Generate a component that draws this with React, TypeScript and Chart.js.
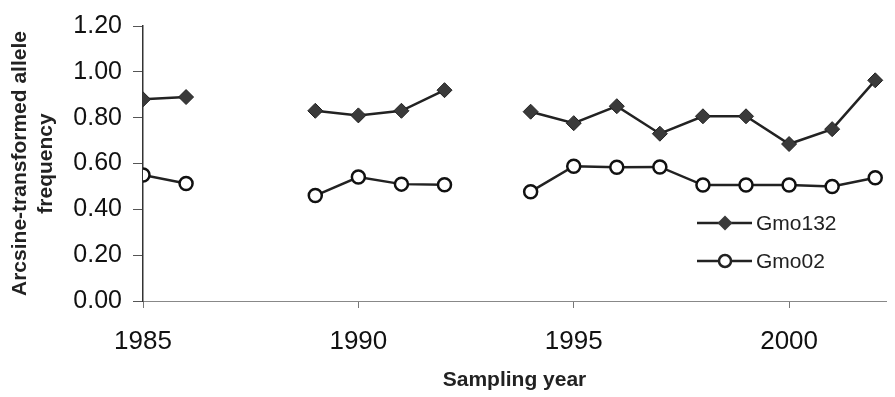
import React, { useEffect, useRef } from "react";
import { Chart, registerables } from "chart.js";

Chart.register(...registerables);

const years = [1985, 1986, 1987, 1988, 1989, 1990, 1991, 1992, 1993, 1994, 1995, 1996, 1997, 1998, 1999, 2000, 2001, 2002];
const gmo132 = [0.88, 0.89, null, null, 0.83, 0.81, 0.83, 0.92, null, 0.826, 0.776, 0.85, 0.73, 0.806, 0.806, 0.685, 0.75, 0.963];
const gmo02 = [0.55, 0.513, null, null, 0.46, 0.541, 0.51, 0.507, null, 0.477, 0.588, 0.584, 0.585, 0.506, 0.506, 0.506, 0.5, 0.538];
const xTicks = [1985, 1990, 1995, 2000];
const yTicks = [0, 0.2, 0.4, 0.6, 0.8, 1.0, 1.2];
const seriesNames = ["Gmo132", "Gmo02"];
const xTitle = "Sampling year";
const yTitle = ["Arcsine-transformed allele", "frequency"];

const FONT = "'Liberation Sans', Arial, sans-serif";

const legendPlugin = {
  id: "insideLegend",
  afterDraw(chart: any) {
    const ctx = chart.ctx;
    const rows = [
      { y: 223, style: "diamond", name: seriesNames[0] },
      { y: 261, style: "circle", name: seriesNames[1] },
    ];
    ctx.save();
    for (const r of rows) {
      ctx.strokeStyle = "#222";
      ctx.lineWidth = 2.5;
      ctx.beginPath();
      ctx.moveTo(697, r.y);
      ctx.lineTo(752, r.y);
      ctx.stroke();
      const cx = 725;
      if (r.style === "diamond") {
        ctx.fillStyle = "#3a3a3a";
        ctx.beginPath();
        ctx.moveTo(cx, r.y - 7.5);
        ctx.lineTo(cx + 7.5, r.y);
        ctx.lineTo(cx, r.y + 7.5);
        ctx.lineTo(cx - 7.5, r.y);
        ctx.closePath();
        ctx.fill();
      } else {
        ctx.fillStyle = "#fff";
        ctx.lineWidth = 2.5;
        ctx.beginPath();
        ctx.arc(cx, r.y, 6, 0, Math.PI * 2);
        ctx.fill();
        ctx.stroke();
      }
      ctx.fillStyle = "#222";
      ctx.font = `21px ${FONT}`;
      ctx.textBaseline = "middle";
      ctx.textAlign = "left";
      ctx.fillText(r.name, 756, r.y + 1);
    }
    ctx.restore();
  },
};

export default function App() {
  const ref = useRef<HTMLCanvasElement>(null);
  useEffect(() => {
    if (!ref.current) return;
    const chart = new Chart(ref.current, {
      type: "line",
      data: {
        datasets: [
          {
            label: seriesNames[0],
            data: years.map((x, i) => ({ x, y: gmo132[i] })) as any,
            borderColor: "#222",
            borderWidth: 2.5,
            backgroundColor: "#3a3a3a",
            pointStyle: "rectRot",
            pointRadius: 7.5,
            pointBorderWidth: 1,
            pointBorderColor: "#222",
            pointBackgroundColor: "#3a3a3a",
            spanGaps: false,
            tension: 0,
          },
          {
            label: seriesNames[1],
            data: years.map((x, i) => ({ x, y: gmo02[i] })) as any,
            borderColor: "#222",
            borderWidth: 2.5,
            pointStyle: "circle",
            pointRadius: 6.5,
            pointBorderWidth: 2.5,
            pointBorderColor: "#111",
            pointBackgroundColor: "#fff",
            spanGaps: false,
            tension: 0,
          },
        ],
      },
      options: {
        animation: false,
        responsive: false,
        maintainAspectRatio: false,
        layout: { padding: { top: 20, right: 0, left: 0, bottom: 0 } },
        plugins: { legend: { display: false }, tooltip: { enabled: false } },
        scales: {
          x: {
            type: "linear",
            min: 1985,
            max: 2002.25,
            afterBuildTicks: (s: any) => {
              s.ticks = xTicks.map((v) => ({ value: v }));
            },
            afterFit: (s: any) => {
              s.height = 96;
            },
            ticks: {
              color: "#111",
              font: { family: FONT, size: 26 },
              padding: 18,
              maxRotation: 0,
              callback: (v: any) => String(v),
            },
            grid: { drawOnChartArea: false, drawTicks: true, tickLength: 7, color: "#777", lineWidth: 1 },
            border: { color: "#888", width: 1 },
            title: {
              display: true,
              text: xTitle,
              color: "#222",
              font: { family: FONT, size: 21, weight: "bold", lineHeight: 1.15 },
              padding: { top: 0, bottom: 5 },
            },
          },
          y: {
            min: 0,
            max: 1.2,
            afterBuildTicks: (s: any) => {
              s.ticks = yTicks.map((v) => ({ value: v }));
            },
            afterFit: (s: any) => {
              s.width = 143;
            },
            ticks: {
              color: "#111",
              font: { family: FONT, size: 25 },
              padding: 11,
              callback: (v: any) => Number(v).toFixed(2),
            },
            grid: { drawOnChartArea: false, drawTicks: true, tickLength: 10, color: "#555", lineWidth: 1 },
            border: { color: "#333", width: 1.5 },
            title: {
              display: true,
              text: yTitle,
              color: "#222",
              font: { family: FONT, size: 21, weight: "bold", lineHeight: 1.25 },
              padding: { top: 7, bottom: 0 },
            },
          },
        },
      },
      plugins: [legendPlugin],
    });
    return () => chart.destroy();
  }, []);
  return (
    <div style={{ position: "fixed", left: 0, top: 0, width: 895, height: 397, background: "#fff" }}>
      <canvas ref={ref} width={895} height={397} style={{ width: 895, height: 397 }} />
    </div>
  );
}
